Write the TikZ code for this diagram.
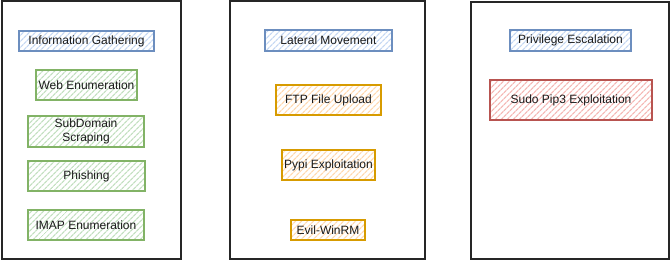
\documentclass[tikz,border=0pt]{standalone}
\usepackage{fontspec}
\setmainfont{Liberation Sans}
\usetikzlibrary{patterns.meta}
\definecolor{blueline}{HTML}{6C8EBF}\definecolor{bluefill}{HTML}{C5D8F3}
\definecolor{greenline}{HTML}{82B366}\definecolor{greenfill}{HTML}{C3E0C0}
\definecolor{orangeline}{HTML}{D79B00}\definecolor{orangefill}{HTML}{FFD9B0}
\definecolor{redline}{HTML}{B85450}\definecolor{redfill}{HTML}{F5B8B5}
\definecolor{txt}{HTML}{1A1A1A}
\begin{document}
\begin{tikzpicture}[x=1pt,y=-1pt,
  card/.style={rectangle,inner sep=0pt,align=center,text=txt,
    font=\fontsize{12}{13.5}\selectfont,line width=1.1pt},
  hatch/.style={pattern={Lines[angle=45,distance=4pt,line width=1.3pt]},pattern color=#1},
  bluecard/.style={card,draw=blueline,hatch=bluefill},
  greencard/.style={card,draw=greenline,hatch=greenfill},
  orangecard/.style={card,draw=orangeline,hatch=orangefill},
  redcard/.style={card,draw=redline,hatch=redfill},
  panel/.style={draw=black!85,line width=1.2pt,fill=white}]
\useasboundingbox (0,0) rectangle (671,261);
% three columns
\draw[panel] (2,1) rectangle (181,259);
\draw[panel] (230,1) rectangle (425,259);
\draw[panel] (471,2) rectangle (669,259);
% column 1
\node[bluecard,minimum width=135pt,minimum height=20pt] (info) at (86.5,41) {Information Gathering};
\node[greencard,minimum width=101pt,minimum height=30pt] (web) at (86.5,85) {Web Enumeration};
\node[greencard,minimum width=116pt,minimum height=31pt] (sub) at (86,131.5) {SubDomain\\Scraping};
\node[greencard,minimum width=117pt,minimum height=30pt] (phish) at (86.5,176) {Phishing};
\node[greencard,minimum width=116pt,minimum height=30pt] (imap) at (86,225) {IMAP Enumeration};
% column 2
\node[bluecard,minimum width=127pt,minimum height=21pt] (lat) at (328.5,40.5) {Lateral Movement};
\node[orangecard,minimum width=105pt,minimum height=30pt] (ftp) at (328.5,100) {FTP File Upload};
\node[orangecard,minimum width=93pt,minimum height=30pt] (pypi) at (328.5,165) {Pypi Exploitation};
\node[orangecard,minimum width=74pt,minimum height=20pt] (evil) at (328,230) {Evil-WinRM};
% column 3
\node[bluecard,minimum width=121pt,minimum height=21pt] (priv) at (570.5,40.5) {Privilege Escalation};
\node[redcard,minimum width=162pt,minimum height=40pt] (sudo) at (571,100) {Sudo Pip3 Exploitation};
\end{tikzpicture}
\end{document}
